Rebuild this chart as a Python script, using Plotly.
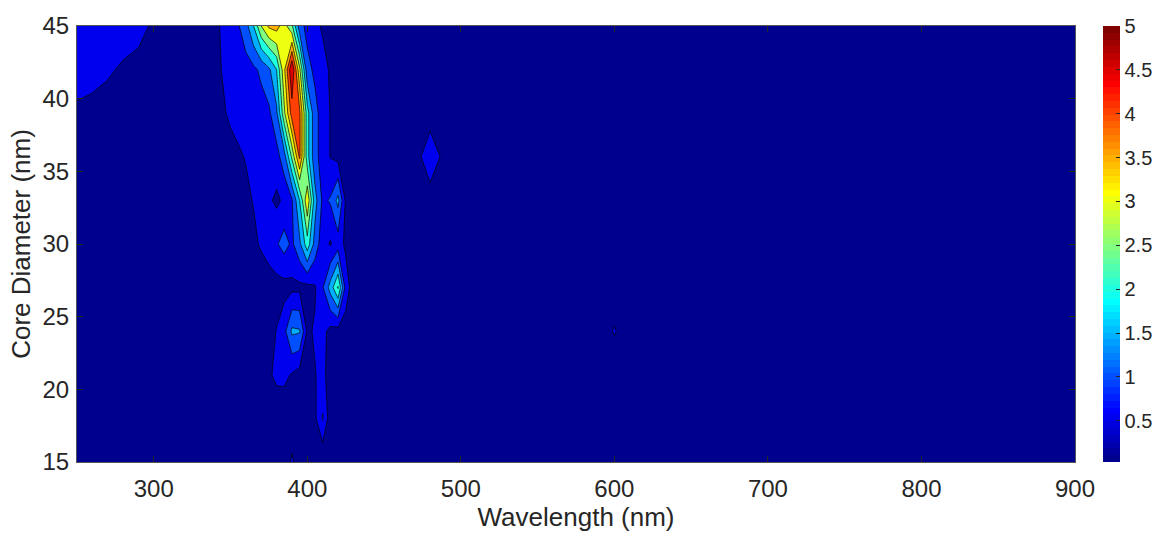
import numpy as np
import plotly.graph_objects as go

# Grid of wavelengths (nm) and core diameters (nm)
wavelength = [250, 260, 270, 280, 290, 300, 310, 320, 330, 340,
              350, 355, 360, 365, 370, 375, 380, 385, 390, 395, 400,
              405, 410, 415, 420, 425, 430,
              440, 450, 460, 470, 480, 490, 500,
              550, 590, 600, 610, 650, 700, 750, 800, 850, 900]
diameter = [15, 18, 21, 24, 27, 30, 33, 36, 39, 42, 45]

# Intensity, one row per diameter (bottom to top), one value per wavelength
d15 = [0.10, 0.10, 0.10, 0.10, 0.10, 0.09, 0.09, 0.09, 0.09, 0.09,
       0.09, 0.09, 0.09, 0.09, 0.09, 0.09, 0.10, 0.10, 0.60, 0.10, 0.08,
       0.06, 0.05, 0.06, 0.07, 0.07, 0.07,
       0.07, 0.07, 0.07, 0.07, 0.07, 0.07, 0.06,
       0.06, 0.05, 0.05, 0.05, 0.05, 0.04, 0.04, 0.04, 0.04, 0.03]
d18 = [0.12, 0.12, 0.12, 0.12, 0.12, 0.11, 0.11, 0.11, 0.11, 0.11,
       0.11, 0.12, 0.12, 0.13, 0.14, 0.15, 0.15, 0.12, 0.10, 0.12, 0.20,
       0.40, 1.05, 0.20, 0.15, 0.13, 0.12,
       0.11, 0.11, 0.10, 0.10, 0.10, 0.10, 0.09,
       0.08, 0.07, 0.07, 0.07, 0.06, 0.06, 0.05, 0.05, 0.05, 0.04]
d21 = [0.14, 0.14, 0.14, 0.13, 0.13, 0.13, 0.13, 0.13, 0.13, 0.13,
       0.14, 0.15, 0.16, 0.18, 0.20, 0.42, 0.62, 0.64, 0.45, 0.30, 0.25,
       0.48, 0.62, 0.30, 0.22, 0.20, 0.17,
       0.14, 0.13, 0.12, 0.12, 0.12, 0.11, 0.11,
       0.09, 0.08, 0.08, 0.08, 0.07, 0.06, 0.06, 0.05, 0.05, 0.05]
d24 = [0.15, 0.15, 0.15, 0.15, 0.15, 0.14, 0.14, 0.14, 0.14, 0.14,
       0.14, 0.15, 0.16, 0.17, 0.20, 0.32, 0.52, 0.85, 1.60, 1.55, 0.42,
       0.55, 0.65, 0.35, 0.30, 0.25, 0.18,
       0.15, 0.14, 0.13, 0.13, 0.13, 0.12, 0.12,
       0.10, 0.10, 0.55, 0.10, 0.08, 0.07, 0.06, 0.06, 0.05, 0.05]
d27 = [0.17, 0.17, 0.16, 0.16, 0.16, 0.16, 0.16, 0.16, 0.16, 0.17,
       0.18, 0.20, 0.22, 0.24, 0.26, 0.28, 0.30, 0.32, 0.38, 0.38, 0.35,
       0.45, 0.95, 1.70, 2.55, 0.80, 0.20,
       0.17, 0.15, 0.14, 0.14, 0.14, 0.13, 0.13,
       0.11, 0.10, 0.10, 0.10, 0.09, 0.08, 0.07, 0.06, 0.06, 0.05]
d30 = [0.19, 0.18, 0.18, 0.18, 0.18, 0.18, 0.18, 0.18, 0.19, 0.20,
       0.25, 0.30, 0.36, 0.42, 0.55, 0.70, 0.95, 1.20, 0.90, 1.40, 2.30,
       1.30, 0.70, 0.45, 0.75, 0.40, 0.22,
       0.18, 0.16, 0.16, 0.16, 0.17, 0.15, 0.14,
       0.12, 0.10, 0.10, 0.10, 0.09, 0.08, 0.07, 0.06, 0.06, 0.05]
d33 = [0.22, 0.21, 0.20, 0.20, 0.20, 0.20, 0.20, 0.21, 0.22, 0.24,
       0.30, 0.35, 0.42, 0.52, 0.60, 0.58, 0.40, 0.60, 0.95, 2.00, 3.40,
       1.70, 0.90, 1.05, 1.65, 0.42, 0.25,
       0.20, 0.18, 0.18, 0.18, 0.22, 0.20, 0.16,
       0.12, 0.10, 0.10, 0.10, 0.09, 0.08, 0.07, 0.06, 0.05, 0.05]
d36 = [0.30, 0.28, 0.27, 0.26, 0.25, 0.25, 0.25, 0.26, 0.27, 0.30,
       0.40, 0.45, 0.52, 0.56, 0.60, 0.70, 0.80, 1.30, 2.60, 4.10, 2.20,
       1.15, 0.80, 0.48, 0.35, 0.30, 0.25,
       0.22, 0.20, 0.20, 0.22, 0.90, 0.28, 0.18,
       0.13, 0.11, 0.10, 0.10, 0.09, 0.08, 0.07, 0.06, 0.05, 0.05]
d39 = [0.40, 0.37, 0.34, 0.32, 0.30, 0.30, 0.30, 0.30, 0.32, 0.38,
       0.55, 0.62, 0.70, 0.75, 0.80, 0.90, 1.40, 2.90, 4.25, 4.10, 2.20,
       1.15, 0.80, 0.48, 0.35, 0.30, 0.25,
       0.22, 0.20, 0.20, 0.20, 0.22, 0.20, 0.16,
       0.13, 0.11, 0.10, 0.10, 0.09, 0.08, 0.07, 0.06, 0.05, 0.05]
d42 = [0.75, 0.65, 0.55, 0.45, 0.40, 0.38, 0.36, 0.36, 0.38, 0.42,
       0.62, 0.70, 0.80, 0.90, 1.10, 1.40, 2.00, 3.40, 5.00, 3.10, 1.15,
       0.90, 0.65, 0.45, 0.35, 0.30, 0.25,
       0.22, 0.20, 0.18, 0.17, 0.17, 0.16, 0.15,
       0.13, 0.11, 0.10, 0.10, 0.09, 0.08, 0.07, 0.06, 0.05, 0.05]
d45 = [0.95, 0.85, 0.75, 0.68, 0.60, 0.45, 0.40, 0.38, 0.38, 0.40,
       0.75, 0.95, 1.30, 2.00, 3.00, 3.60, 3.70, 3.20, 2.60, 1.20, 0.85,
       0.60, 0.45, 0.35, 0.30, 0.25, 0.22,
       0.20, 0.18, 0.17, 0.16, 0.16, 0.15, 0.14,
       0.12, 0.10, 0.10, 0.09, 0.08, 0.07, 0.06, 0.05, 0.05, 0.04]

intensity = [d15, d18, d21, d24, d27, d30, d33, d36, d39, d42, d45]

x_ticks = [300, 400, 500, 600, 700, 800, 900]
y_ticks = [15, 20, 25, 30, 35, 40, 45]
cbar_ticks = [0.5, 1, 1.5, 2, 2.5, 3, 3.5, 4, 4.5, 5]
cbar_labels = ["0.5", "1", "1.5", "2", "2.5", "3", "3.5", "4", "4.5", "5"]

LEVEL_START, LEVEL_END, LEVEL_STEP = 0.5, 4.5, 0.5


def jet(m=64):
    """MATLAB-style jet colormap with m entries (rgb in 0..1)."""
    n = int(np.ceil(m / 4))
    u = np.concatenate([np.arange(1, n + 1) / n, np.ones(n - 1), np.arange(n, 0, -1) / n])
    g = int(np.ceil(n / 2)) - (1 if m % 4 == 1 else 0) + np.arange(1, len(u) + 1)
    r = g + n
    b = g - n
    J = np.zeros((m, 3))
    r_ok = r[r <= m]
    g_ok = g[g <= m]
    b_ok = b[b >= 1]
    J[r_ok - 1, 0] = u[:len(r_ok)]
    J[g_ok - 1, 1] = u[:len(g_ok)]
    J[b_ok - 1, 2] = u[len(u) - len(b_ok):]
    return J


def rgb(c):
    return "rgb(%d,%d,%d)" % tuple(int(round(v * 255)) for v in c)


cmap = jet(64)
Z = np.array(intensity)
cmin, cmax = float(Z.min()), float(Z.max())


def level_color(val):
    idx = int(np.floor((val - cmin) / (cmax - cmin) * len(cmap)))
    idx = min(max(idx, 0), len(cmap) - 1)
    return rgb(cmap[idx])


# Fill colour of each band: below first level, then above each level
levels = np.arange(LEVEL_START, LEVEL_END + LEVEL_STEP / 2, LEVEL_STEP)
band_colors = [level_color(cmin)] + [level_color(L) for L in levels]
nb = len(band_colors) - 1
band_scale = [[k / nb, c] for k, c in enumerate(band_colors)]

# Stepped 64-colour jet scale for the colour bar
step_scale = []
for i, c in enumerate(cmap):
    step_scale.append([i / len(cmap), rgb(c)])
    step_scale.append([(i + 1) / len(cmap), rgb(c)])

txt = "#262626"
font_family = "Liberation Sans, Arial, Helvetica, sans-serif"

fig = go.Figure()

# Heatmap underneath carries the continuous colour bar
fig.add_trace(go.Heatmap(
    x=wavelength, y=diameter, z=intensity,
    colorscale=step_scale, zmin=cmin, zmax=cmax,
    hoverinfo="skip",
    colorbar=dict(
        x=1.028, xanchor="left", xref="paper",
        y=0.5, yanchor="middle", len=1.0, lenmode="fraction",
        thickness=17, thicknessmode="pixels",
        xpad=0, ypad=0, outlinewidth=0,
        tickmode="array", tickvals=cbar_ticks, ticktext=cbar_labels,
        ticks="inside", ticklen=4, tickcolor=txt, tickwidth=0.8,
        tickfont=dict(family=font_family, size=20, color=txt),
    ),
))

fig.add_trace(go.Contour(
    x=wavelength, y=diameter, z=intensity,
    autocontour=False,
    contours=dict(start=LEVEL_START, end=LEVEL_END, size=LEVEL_STEP,
                  coloring="fill", showlines=True),
    colorscale=band_scale,
    line=dict(color="black", width=0.7, smoothing=0),
    showscale=False,
    hoverinfo="skip",
))

axis_common = dict(
    ticks="inside", ticklen=6, tickwidth=0.8, tickcolor=txt,
    showline=True, linecolor="#555555", linewidth=1, mirror="ticks",
    showgrid=False, zeroline=False,
    tickfont=dict(family=font_family, size=24, color=txt),
)

fig.update_layout(
    width=1173, height=539,
    margin=dict(l=77, r=98, t=20, b=77),
    paper_bgcolor="white", plot_bgcolor="white",
    font=dict(family=font_family, color=txt),
    xaxis=dict(range=[250, 900], tickmode="array", tickvals=x_ticks,
               ticklabelstandoff=5,
               title=dict(text="Wavelength (nm)",
                          font=dict(family=font_family, size=26, color=txt),
                          standoff=4),
               **axis_common),
    yaxis=dict(range=[15, 45], tickmode="array", tickvals=y_ticks,
               ticklabelstandoff=2,
               title=dict(text="Core Diameter (nm)",
                          font=dict(family=font_family, size=26, color=txt),
                          standoff=4),
               **axis_common),
)

fig.write_html("out.html")
